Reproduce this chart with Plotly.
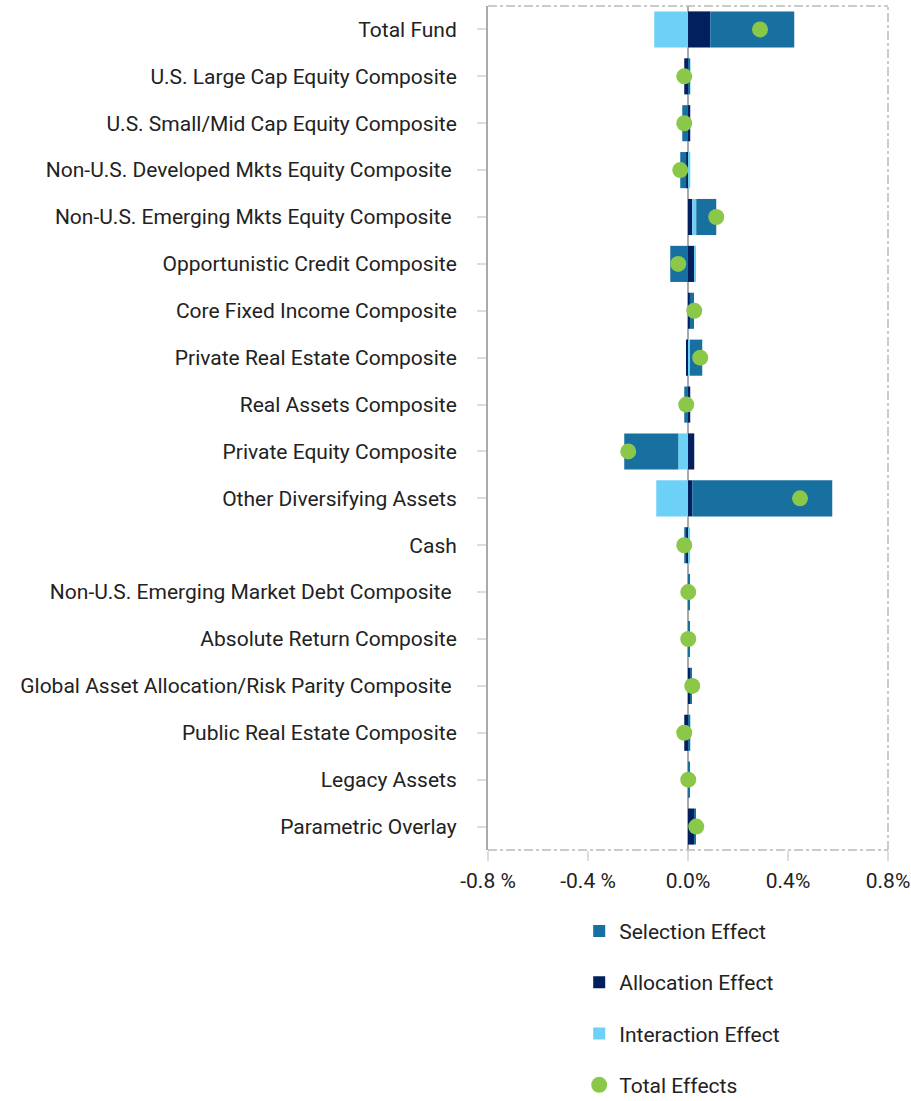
import plotly.graph_objects as go

NB = "\u00a0"
categories = [
    "Total Fund",
    "U.S. Large Cap Equity Composite",
    "U.S. Small/Mid Cap Equity Composite",
    "Non-U.S. Developed Mkts Equity Composite" + NB,
    "Non-U.S. Emerging Mkts Equity Composite" + NB,
    "Opportunistic Credit Composite",
    "Core Fixed Income Composite",
    "Private Real Estate Composite",
    "Real Assets Composite",
    "Private Equity Composite",
    "Other Diversifying Assets",
    "Cash",
    "Non-U.S. Emerging Market Debt Composite" + NB,
    "Absolute Return Composite",
    "Global Asset Allocation/Risk Parity Composite" + NB,
    "Public Real Estate Composite",
    "Legacy Assets",
    "Parametric Overlay",
]

selection = [0.336, 0.009, -0.023, -0.024, 0.080, -0.071, 0.017, 0.049, -0.015,
             -0.216, 0.560, -0.008, 0.005, 0.005, 0.007, 0.009, 0.005, 0.008]
allocation = [0.089, -0.015, 0.009, -0.007, 0.017, 0.025, 0.007, -0.007, 0.009,
              0.025, 0.017, -0.007, 0.0, 0.0, 0.009, -0.015, 0.0, 0.024]
interaction = [-0.135, 0.0, 0.0, 0.009, 0.016, 0.007, 0.0, 0.008, 0.0,
               -0.039, -0.127, 0.008, 0.0, 0.0, 0.0, 0.0, 0.0, 0.0]
total = [0.288, -0.015, -0.015, -0.031, 0.113, -0.039, 0.025, 0.049, -0.007,
         -0.239, 0.448, -0.015, 0.001, 0.001, 0.017, -0.015, 0.001, 0.033]

x_tickvals = [-0.8, -0.4, 0.0, 0.4, 0.8]
x_ticktext = ["-0.8 %", "-0.4 %", "0.0%", "0.4%", "0.8%"]

C_SEL = "#17709f"
C_ALL = "#02205e"
C_INT = "#6dd1f7"
C_TOT = "#8bc84a"

fig = go.Figure()
fig.add_trace(go.Bar(y=categories, x=allocation, orientation="h", name="Allocation Effect",
                     marker=dict(color=C_ALL, line=dict(width=0)), legendrank=2, legendgroup="b"))
fig.add_trace(go.Bar(y=categories, x=interaction, orientation="h", name="Interaction Effect",
                     marker=dict(color=C_INT, line=dict(width=0)), legendrank=3, legendgroup="c"))
fig.add_trace(go.Bar(y=categories, x=selection, orientation="h", name="Selection Effect",
                     marker=dict(color=C_SEL, line=dict(width=0)), legendrank=1, legendgroup="a"))
fig.add_trace(go.Scatter(y=categories, x=total, mode="markers", name="Total Effects",
                         marker=dict(color=C_TOT, size=16, line=dict(width=0)),
                         legendrank=4, legendgroup="d"))

n = len(categories)
fig.update_layout(
    width=911, height=1101,
    barmode="relative",
    bargap=0.23,
    plot_bgcolor="white",
    paper_bgcolor="white",
    margin=dict(l=488, r=23, t=6, b=251, autoexpand=False),
    font=dict(family="Roboto", size=21, color="#222222"),
    showlegend=True,
    legend=dict(x=0.228, xanchor="left", y=-0.072, yanchor="top",
                font=dict(size=21, color="#222222"),
                tracegroupgap=21, traceorder="grouped", itemwidth=30),
    xaxis=dict(range=[-0.8, 0.8], tickvals=x_tickvals, ticktext=x_ticktext,
               showgrid=False, zeroline=True, zerolinecolor="#aaaaaa", zerolinewidth=2,
               ticks="outside", ticklen=10, tickwidth=2, tickcolor="#dddddd",
               ticklabelstandoff=2, showline=False, fixedrange=True),
    yaxis=dict(range=[n - 0.5, -0.5], showgrid=False, zeroline=False,
               showline=True, linecolor="#aaaaaa", linewidth=2,
               ticks="outside", ticklen=9, tickwidth=2, tickcolor="#dddddd",
               ticklabelstandoff=16, fixedrange=True),
    shapes=[
        dict(type="line", xref="paper", yref="paper", x0=0, x1=1, y0=1, y1=1,
             line=dict(color="#bbbbbb", width=1.5, dash="dashdot")),
        dict(type="line", xref="paper", yref="paper", x0=1, x1=1, y0=0, y1=1,
             line=dict(color="#bbbbbb", width=1.5, dash="dashdot")),
        dict(type="line", xref="paper", yref="paper", x0=0, x1=1, y0=0, y1=0,
             line=dict(color="#bbbbbb", width=1.5, dash="dashdot")),
    ],
)

fig.write_html("out.html", config={"displayModeBar": False},
               post_script="document.body.style.margin='0px';")
